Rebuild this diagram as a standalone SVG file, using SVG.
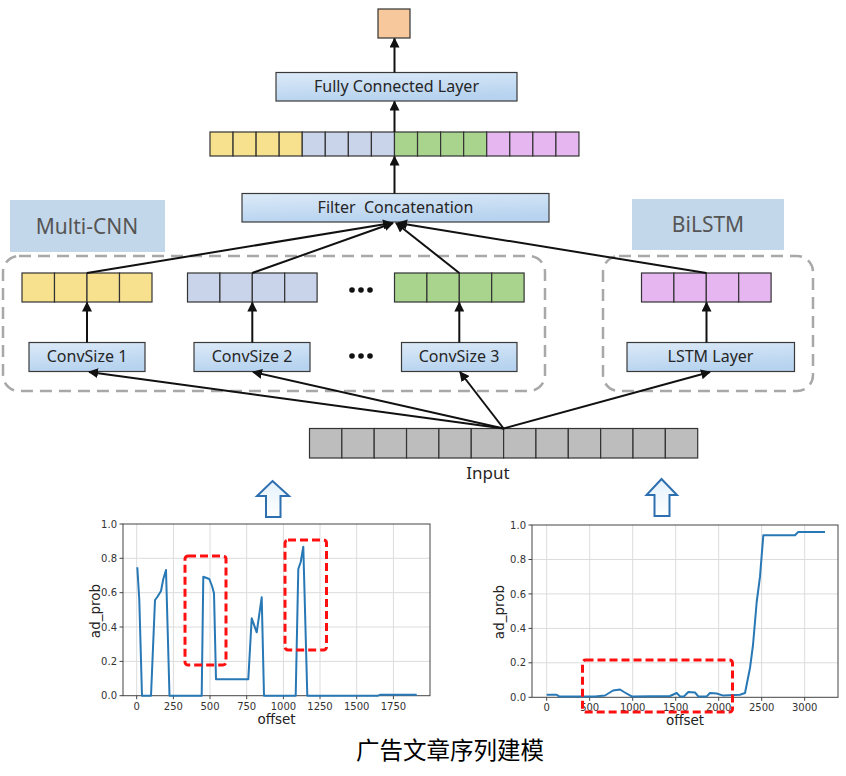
<svg xmlns="http://www.w3.org/2000/svg" width="846" height="776" viewBox="0 0 846 776">
<defs>
<linearGradient id="gBlue" x1="0" y1="0" x2="0.3" y2="1">
<stop offset="0" stop-color="#DCEAF8"/><stop offset="1" stop-color="#B7D3EF"/>
</linearGradient>
<linearGradient id="gArrow" x1="0" y1="0" x2="0" y2="1">
<stop offset="0" stop-color="#E3F1FB"/><stop offset="1" stop-color="#FFFFFF"/>
</linearGradient>
<marker id="ah" viewBox="0 0 10 10" refX="9" refY="5" markerWidth="5" markerHeight="5" orient="auto-start-reverse">
<path d="M0,0 L10,5 L0,10 z" fill="#111"/>
</marker>
<style>
.box{fill:url(#gBlue);stroke:#3a3a3a;stroke-width:1.2}
.lbl{font-family:"Noto Sans","Open Sans","Liberation Sans",sans-serif;font-size:16px;fill:#262626;text-anchor:middle;dominant-baseline:central}
.grp{fill:#C3D7EA}
.grpt{font-family:"Noto Sans","Open Sans","Liberation Sans",sans-serif;font-size:21px;fill:#555;text-anchor:middle;dominant-baseline:central}
.dash{fill:none;stroke:#A8A8A8;stroke-width:2.5;stroke-dasharray:12 7}
.cell{stroke:#333;stroke-width:1.2}
.y{fill:#F7E08E}.b{fill:#C9D4EA}.g{fill:#A8D48E}.p{fill:#E5B6EF}.k{fill:#BDBDBD}.o{fill:#F6C89C}
.con{stroke:#111;stroke-width:2;fill:none;marker-end:url(#ah)}
.grid{stroke:#DCDCDC;stroke-width:1}
.axis{fill:none;stroke:#444;stroke-width:1}
.tick{stroke:#444;stroke-width:1}
.tl{font-family:"DejaVu Sans",sans-serif;font-size:10px;fill:#333}
.al{font-family:"DejaVu Sans",sans-serif;font-size:13.5px;fill:#222;text-anchor:middle}
.data{fill:none;stroke:#2878B5;stroke-width:2;stroke-linejoin:round}
.red{fill:none;stroke:#FF1010;stroke-width:3;stroke-dasharray:8 4}
.harrow{fill:url(#gArrow);stroke:#2E6FB0;stroke-width:2}
</style>
</defs>
<rect width="846" height="776" fill="#FFFFFF"/>

<g id="output">
<rect class="cell o" x="378" y="9" width="32" height="29"/>
</g>

<g id="fc">
<rect class="box" x="276" y="72.5" width="241" height="28.5"/>
<text class="lbl" x="396.5" y="85.5">Fully Connected Layer</text>
</g>

<g id="concat-vector">
<rect class="cell y" x="210" y="132" width="23.06" height="24"/>
<rect class="cell y" x="233.06" y="132" width="23.06" height="24"/>
<rect class="cell y" x="256.12" y="132" width="23.06" height="24"/>
<rect class="cell y" x="279.18" y="132" width="23.06" height="24"/>
<rect class="cell b" x="302.24" y="132" width="23.06" height="24"/>
<rect class="cell b" x="325.3" y="132" width="23.06" height="24"/>
<rect class="cell b" x="348.36" y="132" width="23.06" height="24"/>
<rect class="cell b" x="371.42" y="132" width="23.06" height="24"/>
<rect class="cell g" x="394.48" y="132" width="23.06" height="24"/>
<rect class="cell g" x="417.54" y="132" width="23.06" height="24"/>
<rect class="cell g" x="440.6" y="132" width="23.06" height="24"/>
<rect class="cell g" x="463.66" y="132" width="23.06" height="24"/>
<rect class="cell p" x="486.72" y="132" width="23.06" height="24"/>
<rect class="cell p" x="509.78" y="132" width="23.06" height="24"/>
<rect class="cell p" x="532.84" y="132" width="23.06" height="24"/>
<rect class="cell p" x="555.9" y="132" width="23.06" height="24"/>
</g>

<g id="filter-concat">
<rect class="box" x="242" y="193.5" width="307" height="28.5"/>
<text class="lbl" x="395.5" y="206.5" xml:space="preserve">Filter  Concatenation</text>
</g>

<g id="multi-cnn-label">
<rect class="grp" x="10" y="200" width="155" height="52"/>
<text class="grpt" x="87" y="225.5">Multi-CNN</text>
</g>

<g id="bilstm-label">
<rect class="grp" x="632" y="199" width="152" height="51"/>
<text class="grpt" x="708" y="223.5">BiLSTM</text>
</g>

<g id="multi-cnn-group">
<rect class="dash" x="3" y="256" width="542" height="135" rx="16"/>
</g>
<g id="bilstm-group">
<rect class="dash" x="603" y="256" width="210" height="135" rx="16"/>
</g>

<g id="feat-1">
<rect class="cell y" x="22" y="273" width="32.5" height="29"/>
<rect class="cell y" x="54.5" y="273" width="32.5" height="29"/>
<rect class="cell y" x="87" y="273" width="32.5" height="29"/>
<rect class="cell y" x="119.5" y="273" width="32.5" height="29"/>
</g>
<g id="feat-2">
<rect class="cell b" x="187.5" y="273" width="32.4" height="29"/>
<rect class="cell b" x="219.9" y="273" width="32.4" height="29"/>
<rect class="cell b" x="252.3" y="273" width="32.4" height="29"/>
<rect class="cell b" x="284.7" y="273" width="32.4" height="29"/>
</g>
<g id="feat-3">
<rect class="cell g" x="394.5" y="273" width="32.4" height="29"/>
<rect class="cell g" x="426.9" y="273" width="32.4" height="29"/>
<rect class="cell g" x="459.3" y="273" width="32.4" height="29"/>
<rect class="cell g" x="491.7" y="273" width="32.4" height="29"/>
</g>
<g id="feat-lstm">
<rect class="cell p" x="641.5" y="273" width="32.4" height="29"/>
<rect class="cell p" x="673.9" y="273" width="32.4" height="29"/>
<rect class="cell p" x="706.3" y="273" width="32.4" height="29"/>
<rect class="cell p" x="738.7" y="273" width="32.4" height="29"/>
</g>

<g id="dots">
<circle cx="352" cy="290" r="2.8" fill="#111"/><circle cx="361" cy="290" r="2.8" fill="#111"/><circle cx="370" cy="290" r="2.8" fill="#111"/>
<circle cx="352" cy="356" r="2.8" fill="#111"/><circle cx="361" cy="356" r="2.8" fill="#111"/><circle cx="370" cy="356" r="2.8" fill="#111"/>
</g>

<g id="conv1">
<rect class="box" x="29" y="342.5" width="116" height="29"/>
<text class="lbl" x="87" y="356">ConvSize 1</text>
</g>
<g id="conv2">
<rect class="box" x="194" y="342.5" width="116" height="29"/>
<text class="lbl" x="252" y="356">ConvSize 2</text>
</g>
<g id="conv3">
<rect class="box" x="401.5" y="342.5" width="115.5" height="29"/>
<text class="lbl" x="459" y="356">ConvSize 3</text>
</g>
<g id="lstm">
<rect class="box" x="627" y="342.5" width="167.5" height="29"/>
<text class="lbl" x="710.5" y="356">LSTM Layer</text>
</g>

<g id="input">
<rect class="cell k" x="309.5" y="428.5" width="32.35" height="29.5"/>
<rect class="cell k" x="341.85" y="428.5" width="32.35" height="29.5"/>
<rect class="cell k" x="374.2" y="428.5" width="32.35" height="29.5"/>
<rect class="cell k" x="406.55" y="428.5" width="32.35" height="29.5"/>
<rect class="cell k" x="438.9" y="428.5" width="32.35" height="29.5"/>
<rect class="cell k" x="471.25" y="428.5" width="32.35" height="29.5"/>
<rect class="cell k" x="503.6" y="428.5" width="32.35" height="29.5"/>
<rect class="cell k" x="535.95" y="428.5" width="32.35" height="29.5"/>
<rect class="cell k" x="568.3" y="428.5" width="32.35" height="29.5"/>
<rect class="cell k" x="600.65" y="428.5" width="32.35" height="29.5"/>
<rect class="cell k" x="633" y="428.5" width="32.35" height="29.5"/>
<rect class="cell k" x="665.35" y="428.5" width="32.35" height="29.5"/>
<text class="lbl" x="488" y="472" style="font-size:17px">Input</text>
</g>

<g id="connectors">
<line class="con" x1="394.5" y1="193.5" x2="394.5" y2="156.5"/>
<line class="con" x1="394.5" y1="132" x2="394.5" y2="101.5"/>
<line class="con" x1="394.5" y1="72.5" x2="394.5" y2="38.5"/>
<line class="con" x1="87" y1="273" x2="392" y2="223"/>
<line class="con" x1="252.3" y1="273" x2="393" y2="223"/>
<line class="con" x1="459.3" y1="273" x2="396" y2="223"/>
<line class="con" x1="706.3" y1="273" x2="398" y2="223"/>
<line class="con" x1="87" y1="342.5" x2="87" y2="302.5"/>
<line class="con" x1="252.3" y1="342.5" x2="252.3" y2="302.5"/>
<line class="con" x1="459.3" y1="342.5" x2="459.3" y2="302.5"/>
<line class="con" x1="706.5" y1="342.5" x2="706.5" y2="302.5"/>
<line class="con" x1="503.6" y1="428.5" x2="89" y2="372"/>
<line class="con" x1="503.6" y1="428.5" x2="253" y2="372"/>
<line class="con" x1="503.6" y1="428.5" x2="460" y2="372"/>
<line class="con" x1="503.6" y1="428.5" x2="710" y2="372"/>
</g>

<g id="source-arrow-left">
<path class="harrow" d="M272.5,481 L289,496 L280.5,496 L280.5,517 L266,517 L266,496 L257,496 Z"/>
</g>
<g id="source-arrow-right">
<path class="harrow" d="M661.5,479 L677,495 L669.5,495 L669.5,516 L654.5,516 L654.5,495 L646.5,495 Z"/>
</g>

<g id="chart-left">
<g class="grid">
<line x1="136.7" y1="524" x2="136.7" y2="695.7"/><line x1="173.4" y1="524" x2="173.4" y2="695.7"/>
<line x1="210" y1="524" x2="210" y2="695.7"/><line x1="246.7" y1="524" x2="246.7" y2="695.7"/>
<line x1="283.4" y1="524" x2="283.4" y2="695.7"/><line x1="320" y1="524" x2="320" y2="695.7"/>
<line x1="356.7" y1="524" x2="356.7" y2="695.7"/><line x1="393.4" y1="524" x2="393.4" y2="695.7"/>
<line x1="123" y1="661.4" x2="430" y2="661.4"/><line x1="123" y1="627" x2="430" y2="627"/>
<line x1="123" y1="592.7" x2="430" y2="592.7"/><line x1="123" y1="558.3" x2="430" y2="558.3"/>
</g>
<rect class="axis" x="123" y="524" width="307" height="171.7"/>
<g class="tick">
<line x1="136.7" y1="695.7" x2="136.7" y2="699.2"/><line x1="173.4" y1="695.7" x2="173.4" y2="699.2"/>
<line x1="210" y1="695.7" x2="210" y2="699.2"/><line x1="246.7" y1="695.7" x2="246.7" y2="699.2"/>
<line x1="283.4" y1="695.7" x2="283.4" y2="699.2"/><line x1="320" y1="695.7" x2="320" y2="699.2"/>
<line x1="356.7" y1="695.7" x2="356.7" y2="699.2"/><line x1="393.4" y1="695.7" x2="393.4" y2="699.2"/>
<line x1="119.5" y1="695.7" x2="123" y2="695.7"/><line x1="119.5" y1="661.4" x2="123" y2="661.4"/>
<line x1="119.5" y1="627" x2="123" y2="627"/><line x1="119.5" y1="592.7" x2="123" y2="592.7"/>
<line x1="119.5" y1="558.3" x2="123" y2="558.3"/><line x1="119.5" y1="524" x2="123" y2="524"/>
</g>
<g class="tl" text-anchor="end">
<text x="117" y="699.3">0.0</text><text x="117" y="665">0.2</text><text x="117" y="630.6">0.4</text>
<text x="117" y="596.3">0.6</text><text x="117" y="561.9">0.8</text><text x="117" y="527.6">1.0</text>
</g>
<g class="tl" text-anchor="middle">
<text x="136.7" y="709.5">0</text><text x="173.4" y="709.5">250</text><text x="210" y="709.5">500</text>
<text x="246.7" y="709.5">750</text><text x="283.4" y="709.5">1000</text><text x="320" y="709.5">1250</text>
<text x="356.7" y="709.5">1500</text><text x="393.4" y="709.5">1750</text>
</g>
<text class="al" x="276.5" y="723.5">offset</text>
<text class="al" x="0" y="0" transform="translate(95,611) rotate(-90)" dominant-baseline="central">ad_prob</text>
<path class="data" d="M137.3,567.3 L139.3,600 L142,695.7 L151,695.7 L155,600 L157.3,597 L161,591 L163.3,579 L166,570 L169.5,695.7 L201.7,695.7 L203.3,576.7 L209.3,579 L212,586 L214,593.3 L216,679.3 L248.3,679.3 L251.7,618.3 L256.7,632.3 L261.7,597.3 L264,695.7 L295.7,695.7 L298.3,569 L300.7,562 L303.3,546.7 L307.3,695.7 L378,695.7 L380,694.8 L416.7,694.8"/>
<rect class="red" x="185" y="556" width="41" height="109" rx="3"/>
<rect class="red" x="285" y="540" width="41.5" height="110" rx="3"/>
</g>

<g id="chart-right">
<g class="grid">
<line x1="546.7" y1="525" x2="546.7" y2="697.3"/><line x1="589.7" y1="525" x2="589.7" y2="697.3"/>
<line x1="632.7" y1="525" x2="632.7" y2="697.3"/><line x1="675.7" y1="525" x2="675.7" y2="697.3"/>
<line x1="718.7" y1="525" x2="718.7" y2="697.3"/><line x1="761.7" y1="525" x2="761.7" y2="697.3"/>
<line x1="804.7" y1="525" x2="804.7" y2="697.3"/>
<line x1="532" y1="662.8" x2="838" y2="662.8"/><line x1="532" y1="628.4" x2="838" y2="628.4"/>
<line x1="532" y1="593.9" x2="838" y2="593.9"/><line x1="532" y1="559.5" x2="838" y2="559.5"/>
</g>
<rect class="axis" x="532" y="525" width="306" height="172.3"/>
<g class="tick">
<line x1="546.7" y1="697.3" x2="546.7" y2="700.8"/><line x1="589.7" y1="697.3" x2="589.7" y2="700.8"/>
<line x1="632.7" y1="697.3" x2="632.7" y2="700.8"/><line x1="675.7" y1="697.3" x2="675.7" y2="700.8"/>
<line x1="718.7" y1="697.3" x2="718.7" y2="700.8"/><line x1="761.7" y1="697.3" x2="761.7" y2="700.8"/>
<line x1="804.7" y1="697.3" x2="804.7" y2="700.8"/>
<line x1="528.5" y1="697.3" x2="532" y2="697.3"/><line x1="528.5" y1="662.8" x2="532" y2="662.8"/>
<line x1="528.5" y1="628.4" x2="532" y2="628.4"/><line x1="528.5" y1="593.9" x2="532" y2="593.9"/>
<line x1="528.5" y1="559.5" x2="532" y2="559.5"/><line x1="528.5" y1="525" x2="532" y2="525"/>
</g>
<g class="tl" text-anchor="end">
<text x="526" y="700.9">0.0</text><text x="526" y="666.4">0.2</text><text x="526" y="632">0.4</text>
<text x="526" y="597.5">0.6</text><text x="526" y="563.1">0.8</text><text x="526" y="528.6">1.0</text>
</g>
<g class="tl" text-anchor="middle">
<text x="546.7" y="711">0</text><text x="589.7" y="711">500</text><text x="632.7" y="711">1000</text>
<text x="675.7" y="711">1500</text><text x="718.7" y="711">2000</text><text x="761.7" y="711">2500</text>
<text x="804.7" y="711">3000</text>
</g>
<text class="al" x="685" y="725">offset</text>
<text class="al" x="0" y="0" transform="translate(499,612) rotate(-90)" dominant-baseline="central">ad_prob</text>
<path class="data" d="M546.7,694.7 L556.7,694.7 L559,696.4 L595,696.4 L605,695.5 L613,690.5 L620,689.5 L624,692 L631.7,696.4 L670,696 L676.7,693 L680,696.4 L684,696.4 L688.3,692 L695,692.5 L698.3,696.4 L706.7,696.4 L710,693 L716.7,693.5 L723.3,695.6 L740,694.7 L745,693 L750,668 L753,645 L756.7,602 L760,576.7 L763.3,535.3 L795,535.3 L798.3,531.9 L825,531.9"/>
<rect class="red" x="582.5" y="660" width="150" height="52" rx="3"/>
</g>

<text x="450" y="749" text-anchor="middle" dominant-baseline="central" style="font-family:'Noto Sans CJK SC','Noto Sans',sans-serif;font-size:23.5px;font-weight:400;fill:#000">广告文章序列建模</text>
</svg>
